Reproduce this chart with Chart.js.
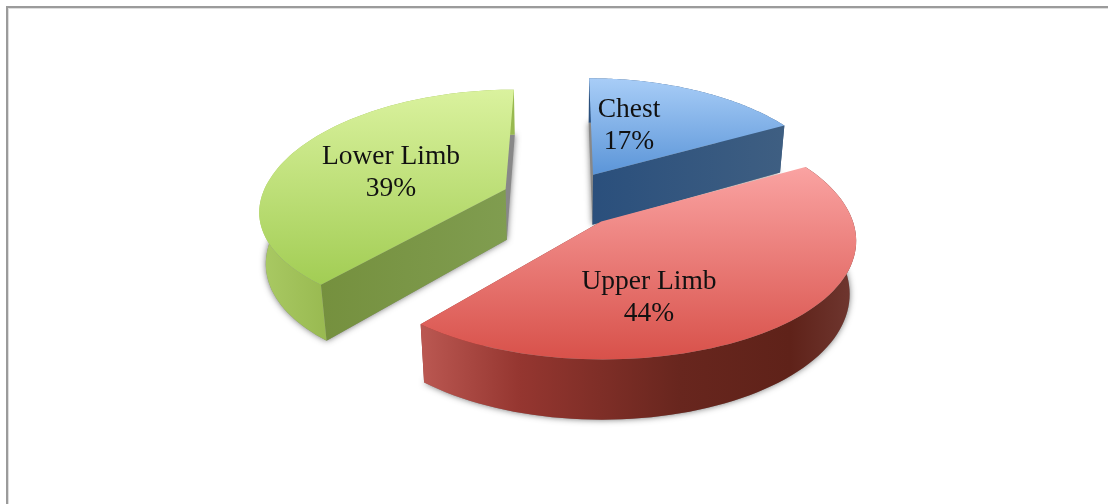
<!DOCTYPE html>
<html>
<head>
<meta charset="utf-8">
<style>
  html, body { margin: 0; padding: 0; background: #fff; overflow: hidden; }
  #frame { position: absolute; left: 6px; top: 6px; width: 1110px; height: 510px;
           border-left: 2px solid #9b9b9b; border-top: 2px solid #9b9b9b; box-shadow: inset 1px 1px 0 #dedede; }
  #pie { position: absolute; left: 0; top: 0; filter: blur(0.5px); }
</style>
</head>
<body>
<div id="frame"></div>
<canvas id="pie" width="1108" height="504"></canvas>
<script src="https://cdn.jsdelivr.net/npm/chart.js@4/dist/chart.umd.min.js"></script>
<script>
const categories = ['Chest', 'Upper Limb', 'Lower Limb'];
const shares = [17, 44, 39];
const percentLabels = ['17%', '44%', '39%'];

// camera for the tilted pie, fitted to the picture
const vanishX = 563, horizonY = -707, focal = 7174, planeDist = 7.92;
const spreadSlope = 0.325, spreadBase = -50, nearDrift = 0.04, nearFrom = 880;
const depthPerV = 0.0565, wallConverge = 2400;

const drawOrder = [0, 2, 1];
const labelSpots = [[629, 125], [649, 297], [391, 172]];

const topColors = [['#a8cdf7', '#5b95d8'], ['#faa3a2', '#d8514a'], ['#daf29e', '#a2cd54']];
const rimStops = [
  [[590, '#2a4f7c'], [790, '#3f5f82']],
  [[420, '#bb5852'], [520, '#953630'], [680, '#68261e'], [790, '#5f2219'], [857, '#703831']],
  [[262, '#a9c963'], [330, '#98b950']]
];
const edgeStops = [
  [[590, '#2a4f7c'], [790, '#3f5f82']],
  [[420, '#953630'], [800, '#5f2219']],
  [[320, '#75903e'], [510, '#809d50']]
];

function project(px, py) {
  const v = focal / (planeDist - py);
  const drift = nearDrift * Math.max(0, v - nearFrom);
  return { x: vanishX + px * (spreadSlope * v + spreadBase) - drift, y: v + horizonY, v };
}
function dropWall(p) {
  const d = depthPerV * p.v;
  return { x: vanishX + (p.x - vanishX) * (1 - d / wallConverge), y: p.y + d };
}
// outline of a slice in the pie's plane, radius 1, taken from the arc element
function sliceOutline(arc) {
  const mid = (arc.startAngle + arc.endAngle) / 2;
  const shift = arc.options.offset / 4 / arc.outerRadius;
  const ax = Math.cos(mid) * shift, ay = Math.sin(mid) * shift;
  const rim = [];
  const steps = 80;
  for (let i = 0; i <= steps; i++) {
    const a = arc.startAngle + (arc.endAngle - arc.startAngle) * i / steps;
    rim.push(project(ax + Math.cos(a), ay + Math.sin(a)));
  }
  return { apex: project(ax, ay), rim };
}
function tracePath(ctx, pts) {
  ctx.beginPath();
  pts.forEach((p, i) => i ? ctx.lineTo(p.x, p.y) : ctx.moveTo(p.x, p.y));
  ctx.closePath();
}
function wallGradient(ctx, stops) {
  const g = ctx.createLinearGradient(0, 0, 1108, 0);
  stops.forEach(s => g.addColorStop(s[0] / 1108, s[1]));
  return g;
}

const tiltedPie = {
  id: 'tiltedPie',
  beforeDatasetsDraw(chart) {
    const ctx = chart.ctx;
    const arcs = chart.getDatasetMeta(0).data;
    drawOrder.forEach(i => {
      const { apex, rim } = sliceOutline(arcs[i]);
      const top = [apex, ...rim];
      const bottom = top.map(dropWall);

      // soft shadow under the block
      ctx.save();
      ctx.shadowColor = 'rgba(0,0,0,0.55)';
      ctx.shadowBlur = 6;
      ctx.fillStyle = '#888';
      tracePath(ctx, bottom);
      ctx.fill();
      ctx.restore();

      // walls: the cut face that looks at the viewer, then the outer rim
      const first = rim[0], last = rim[rim.length - 1];
      const cut = first.y > last.y ? first : last;
      ctx.fillStyle = wallGradient(ctx, edgeStops[i]);
      tracePath(ctx, [apex, cut, dropWall(cut), dropWall(apex)]);
      ctx.fill();
      ctx.fillStyle = wallGradient(ctx, rimStops[i]);
      tracePath(ctx, [...rim, ...rim.map(dropWall).reverse()]);
      ctx.fill();

      // top face
      const ys = top.map(p => p.y);
      const g = ctx.createLinearGradient(0, Math.min(...ys), 0, Math.max(...ys));
      g.addColorStop(0, topColors[i][0]);
      g.addColorStop(1, topColors[i][1]);
      ctx.fillStyle = g;
      tracePath(ctx, top);
      ctx.fill();
    });

    ctx.fillStyle = '#111';
    ctx.font = '27.5px "Liberation Serif"';
    ctx.textAlign = 'center';
    ctx.textBaseline = 'middle';
    categories.forEach((name, i) => {
      ctx.fillText(name, labelSpots[i][0], labelSpots[i][1] - 15);
      ctx.fillText(percentLabels[i], labelSpots[i][0], labelSpots[i][1] + 17);
    });
    return false;
  }
};

new Chart(document.getElementById('pie'), {
  type: 'pie',
  data: {
    labels: categories,
    datasets: [{ data: shares, offset: 168, borderWidth: 0, backgroundColor: topColors.map(c => c[1]) }]
  },
  options: {
    responsive: false,
    animation: false,
    plugins: { legend: { display: false }, tooltip: { enabled: false } }
  },
  plugins: [tiltedPie]
});
</script>
</body>
</html>
